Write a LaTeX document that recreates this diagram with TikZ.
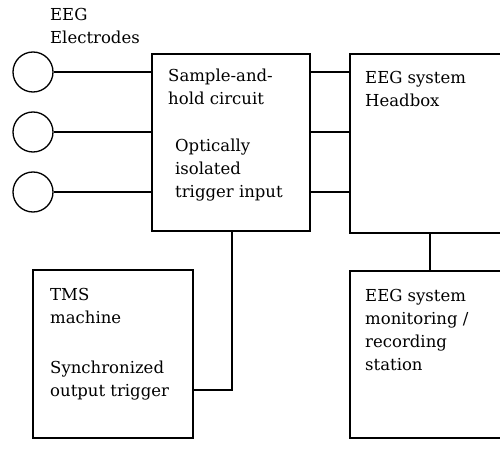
\documentclass[tikz,border=0pt]{standalone}
\usepackage{fontspec}
\setmainfont{DejaVu Serif}
\begin{document}
\begin{tikzpicture}[x=1pt,y=-1pt,
  box/.style={draw,line width=1.3pt,rectangle,inner sep=0pt},
  wire/.style={line width=1.3pt},
  elec/.style={draw,line width=1.3pt,circle,minimum size=40pt,inner sep=0pt},
  lbl/.style={anchor=base west,inner sep=0pt,align=left,font=\fontsize{16.5}{23}\selectfont}]
\useasboundingbox (0,0) rectangle (500,449);
\clip (0,0) rectangle (500,449);
% boxes
\node[box,minimum width=158pt,minimum height=177pt] (sh) at (231,142.5) {};
\node[box,minimum width=170pt,minimum height=179pt] (hb) at (435,143.5) {};
\node[box,minimum width=170pt,minimum height=167pt] (mon) at (435,354.5) {};
\node[box,minimum width=160pt,minimum height=168pt] (tms) at (113,354) {};
% electrodes
\node[elec] (e1) at (33,72) {};
\node[elec] (e2) at (33,132) {};
\node[elec] (e3) at (33,192) {};
% connectors
\foreach \e in {e1,e2,e3}{
  \draw[wire] (\e.east) -- (\e -| sh.west);
  \draw[wire] (\e -| sh.east) -- (\e -| hb.west);
}
\draw[wire] ([xshift=-5pt]hb.south) -- ([xshift=-5pt]hb.south |- mon.north);
\draw[wire] ([xshift=1pt]sh.south) |- ([yshift=-36pt]tms.east);
% labels (base = baseline of last line)
\node[lbl] (telec) at (50,44) {EEG\\Electrodes};
\node[lbl] (tsh1) at (168,105) {Sample-and-\\hold circuit};
\node[lbl] (tsh2) at (175,197) {Optically\\isolated\\trigger input};
\node[lbl] (thb) at (365,107) {EEG system\\Headbox};
\node[lbl] (tmon) at (365,370) {EEG system\\monitoring /\\recording\\station};
\node[lbl] (ttms1) at (50,323) {TMS\\machine};
\node[lbl] (ttms2) at (50,396) {Synchronized\\output trigger};
\end{tikzpicture}
\end{document}
